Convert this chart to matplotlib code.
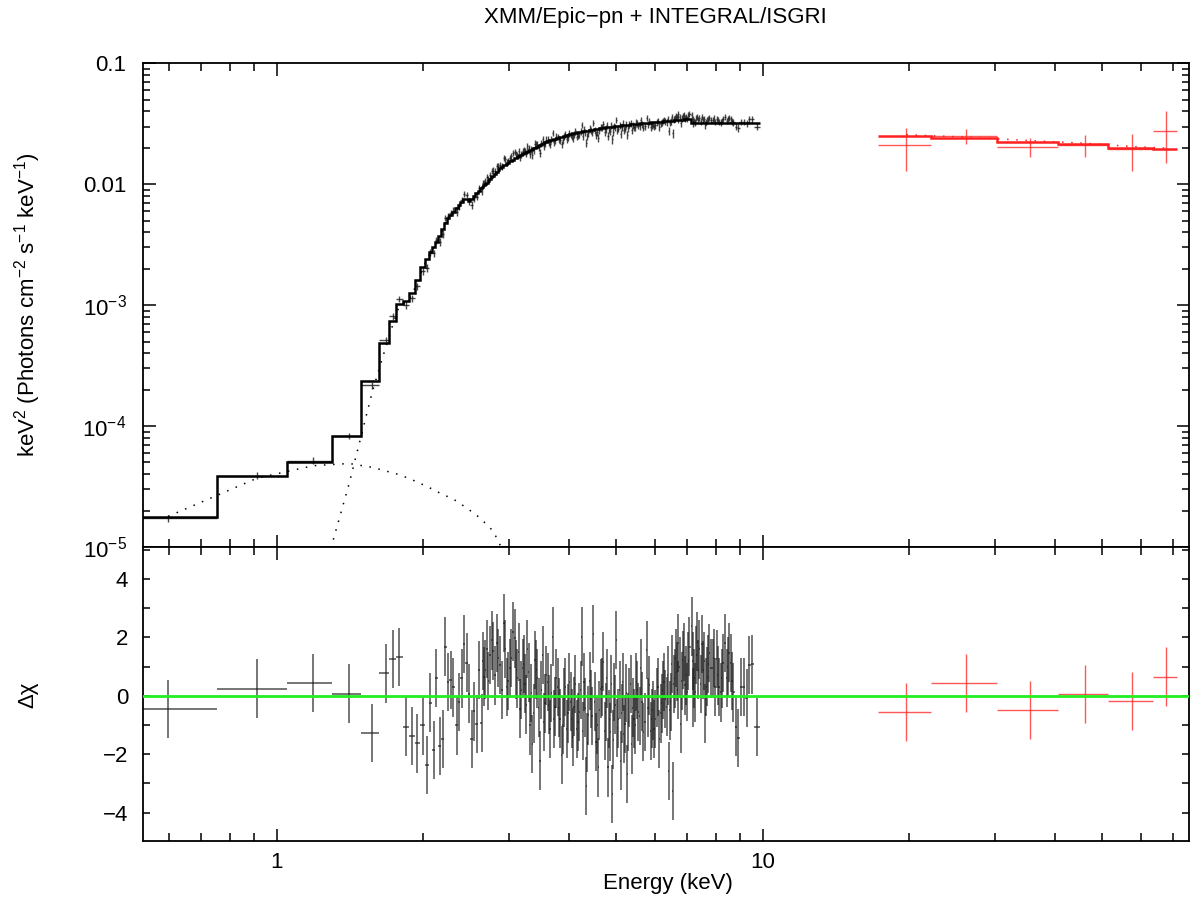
"""XMM/Epic-pn + INTEGRAL/ISGRI unfolded spectrum with delta-chi residuals."""

import matplotlib

matplotlib.use("Agg")
import matplotlib.pyplot as plt
import numpy as np
from matplotlib.ticker import FixedLocator, LogLocator, MultipleLocator, NullFormatter

plt.rcParams["font.family"] = ["Liberation Sans", "DejaVu Sans"]
plt.rcParams["mathtext.fontset"] = "custom"
plt.rcParams["mathtext.rm"] = "Liberation Sans"
plt.rcParams["mathtext.it"] = "Liberation Sans:italic"
plt.rcParams["mathtext.bf"] = "Liberation Sans:bold"

# --- Epic-pn channels: bin centre (keV), folded model (E^2 F), delta-chi
PN_ENERGY = [
    0.598, 0.912, 1.190, 1.410, 1.573, 1.676, 1.737, 1.788, 1.842, 1.898,
    1.947, 1.997, 2.036, 2.070, 2.110, 2.130, 2.170, 2.195, 2.220, 2.255,
    2.280, 2.309, 2.346, 2.372, 2.402, 2.429, 2.460, 2.490, 2.519, 2.550,
    2.579, 2.604, 2.641, 2.655, 2.670, 2.688, 2.705, 2.726, 2.747, 2.768,
    2.790, 2.813, 2.836, 2.858, 2.881, 2.908, 2.936, 2.955, 2.973, 2.996,
    3.020, 3.040, 3.059, 3.093, 3.110, 3.126, 3.147, 3.167, 3.187, 3.207,
    3.225, 3.243, 3.260, 3.278, 3.298, 3.320, 3.338, 3.357, 3.378, 3.400,
    3.418, 3.437, 3.460, 3.482, 3.505, 3.527, 3.546, 3.565, 3.588, 3.611,
    3.630, 3.650, 3.674, 3.698, 3.718, 3.738, 3.762, 3.786, 3.806, 3.827,
    3.859, 3.880, 3.901, 3.926, 3.951, 3.975, 4.000, 4.023, 4.046, 4.068,
    4.090, 4.116, 4.143, 4.168, 4.194, 4.218, 4.242, 4.265, 4.289, 4.310,
    4.330, 4.353, 4.377, 4.402, 4.427, 4.455, 4.482, 4.510, 4.539, 4.564,
    4.589, 4.615, 4.642, 4.670, 4.699, 4.726, 4.753, 4.780, 4.805, 4.828,
    4.851, 4.874, 4.897, 4.920, 4.944, 4.968, 4.991, 5.018, 5.045, 5.074,
    5.103, 5.128, 5.152, 5.180, 5.208, 5.237, 5.266, 5.291, 5.316, 5.346,
    5.377, 5.406, 5.436, 5.461, 5.487, 5.517, 5.547, 5.579, 5.611, 5.645,
    5.680, 5.726, 5.772, 5.808, 5.844, 5.878, 5.911, 5.943, 5.976, 6.014,
    6.053, 6.090, 6.128, 6.163, 6.198, 6.232, 6.266, 6.306, 6.346, 6.376,
    6.407, 6.437, 6.467, 6.498, 6.529, 6.560, 6.591, 6.622, 6.654, 6.680,
    6.705, 6.743, 6.781, 6.813, 6.846, 6.883, 6.921, 6.959, 6.997, 7.030,
    7.064, 7.145, 7.172, 7.199, 7.233, 7.267, 7.301, 7.336, 7.371, 7.406,
    7.448, 7.491, 7.548, 7.584, 7.620, 7.656, 7.693, 7.729, 7.765, 7.828,
    7.891, 7.930, 7.967, 8.043, 8.081, 8.119, 8.196, 8.235, 8.274, 8.365,
    8.433, 8.474, 8.514, 8.594, 8.650, 8.701, 8.812, 8.909, 9.024, 9.153,
    9.271, 9.385, 9.493, 9.720,
]
PN_MODEL = [
    1.78e-5, 3.83e-5, 5.02e-5, 8.26e-5, 2.37e-4, 4.90e-4, 7.46e-4, 1.03e-3, 1.08e-3, 1.25e-3,
    1.60e-3, 2.05e-3, 2.40e-3, 2.75e-3, 3.05e-3, 3.30e-3, 3.75e-3, 4.30e-3, 4.77e-3, 5.28e-3,
    5.60e-3, 5.94e-3, 6.33e-3, 6.70e-3, 7.14e-3, 7.50e-3, 7.60e-3, 7.20e-3, 7.50e-3, 7.96e-3,
    8.43e-3, 8.78e-3, 9.32e-3, 9.54e-3, 9.76e-3, 1.00e-2, 1.03e-2, 1.07e-2, 1.10e-2, 1.14e-2,
    1.18e-2, 1.22e-2, 1.26e-2, 1.30e-2, 1.35e-2, 1.39e-2, 1.43e-2, 1.45e-2, 1.48e-2, 1.51e-2,
    1.55e-2, 1.57e-2, 1.60e-2, 1.65e-2, 1.66e-2, 1.68e-2, 1.71e-2, 1.73e-2, 1.75e-2, 1.78e-2,
    1.80e-2, 1.82e-2, 1.84e-2, 1.86e-2, 1.88e-2, 1.91e-2, 1.93e-2, 1.96e-2, 1.98e-2, 2.01e-2,
    2.03e-2, 2.05e-2, 2.08e-2, 2.11e-2, 2.14e-2, 2.17e-2, 2.19e-2, 2.22e-2, 2.24e-2, 2.27e-2,
    2.28e-2, 2.30e-2, 2.32e-2, 2.34e-2, 2.35e-2, 2.37e-2, 2.39e-2, 2.41e-2, 2.42e-2, 2.44e-2,
    2.46e-2, 2.48e-2, 2.50e-2, 2.52e-2, 2.54e-2, 2.56e-2, 2.58e-2, 2.59e-2, 2.61e-2, 2.63e-2,
    2.64e-2, 2.66e-2, 2.67e-2, 2.68e-2, 2.69e-2, 2.70e-2, 2.72e-2, 2.73e-2, 2.74e-2, 2.75e-2,
    2.76e-2, 2.77e-2, 2.78e-2, 2.79e-2, 2.80e-2, 2.82e-2, 2.83e-2, 2.84e-2, 2.85e-2, 2.87e-2,
    2.88e-2, 2.89e-2, 2.90e-2, 2.91e-2, 2.93e-2, 2.94e-2, 2.95e-2, 2.96e-2, 2.97e-2, 2.98e-2,
    2.99e-2, 2.99e-2, 3.00e-2, 3.00e-2, 3.01e-2, 3.02e-2, 3.02e-2, 3.03e-2, 3.04e-2, 3.04e-2,
    3.05e-2, 3.06e-2, 3.07e-2, 3.07e-2, 3.08e-2, 3.09e-2, 3.10e-2, 3.10e-2, 3.11e-2, 3.12e-2,
    3.12e-2, 3.13e-2, 3.14e-2, 3.15e-2, 3.15e-2, 3.16e-2, 3.17e-2, 3.17e-2, 3.18e-2, 3.19e-2,
    3.20e-2, 3.21e-2, 3.21e-2, 3.22e-2, 3.23e-2, 3.23e-2, 3.24e-2, 3.25e-2, 3.25e-2, 3.26e-2,
    3.27e-2, 3.27e-2, 3.28e-2, 3.29e-2, 3.30e-2, 3.30e-2, 3.31e-2, 3.32e-2, 3.32e-2, 3.33e-2,
    3.33e-2, 3.34e-2, 3.35e-2, 3.35e-2, 3.36e-2, 3.36e-2, 3.37e-2, 3.37e-2, 3.38e-2, 3.38e-2,
    3.39e-2, 3.39e-2, 3.40e-2, 3.41e-2, 3.41e-2, 3.42e-2, 3.43e-2, 3.43e-2, 3.44e-2, 3.44e-2,
    3.45e-2, 3.22e-2, 3.22e-2, 3.22e-2, 3.22e-2, 3.22e-2, 3.22e-2, 3.22e-2, 3.22e-2, 3.22e-2,
    3.22e-2, 3.22e-2, 3.22e-2, 3.22e-2, 3.22e-2, 3.22e-2, 3.22e-2, 3.22e-2, 3.22e-2, 3.22e-2,
    3.22e-2, 3.22e-2, 3.22e-2, 3.22e-2, 3.22e-2, 3.22e-2, 3.22e-2, 3.22e-2, 3.22e-2, 3.22e-2,
    3.22e-2, 3.22e-2, 3.22e-2, 3.22e-2, 3.22e-2, 3.22e-2, 3.22e-2, 3.22e-2, 3.22e-2, 3.22e-2,
    3.22e-2, 3.22e-2, 3.22e-2, 3.22e-2,
]
PN_DELCHI = [
    -0.46, 0.25, 0.45, 0.08, -1.28, 0.77, 1.27, 1.33, -1.05, -1.38,
    -1.63, -1.01, -2.36, -0.23, -1.86, 0.62, -1.72, -1.47, 1.69, 0.48,
    0.54, 0.29, -1.01, -0.21, 0.60, 1.77, 1.14, 0.08, -1.47, -0.53,
    -0.96, 0.88, -0.93, 1.20, 0.66, 0.90, 1.61, 0.50, 1.40, 1.90,
    1.54, 0.70, 1.80, 1.30, 1.05, 0.20, 2.49, 1.60, 0.31, 0.50,
    0.94, 1.30, 2.20, 1.97, 0.90, 0.60, 1.50, -0.44, 0.20, 0.94,
    1.10, 0.42, -0.30, 1.61, 0.80, -1.01, 0.10, -1.65, -0.60, 1.23,
    0.90, 0.60, -0.40, -2.22, 0.20, 1.40, -0.90, -0.26, 0.70, 0.48,
    -0.30, -1.13, 0.10, 2.03, -0.80, -0.37, 0.60, 0.31, -0.40, -0.78,
    -2.02, -1.00, -0.05, 0.30, -1.13, -0.60, 0.48, -0.20, -0.78, -1.40,
    -0.37, 0.40, -1.13, -0.90, -0.55, 0.20, 2.03, -1.20, 0.48, -0.40,
    -3.08, -1.60, -0.67, 0.50, -0.11, -0.70, 2.12, -0.20, -1.59, -1.00,
    -2.45, -0.50, 0.25, 0.30, 1.17, -1.20, -0.55, 0.60, -2.45, -0.80,
    -1.24, 0.40, -3.37, -1.50, 0.14, -0.30, 1.91, -1.10, -0.78, 0.20,
    -2.22, -0.60, 0.48, -1.30, -0.96, 0.10, -2.68, -0.90, -0.05, 0.40,
    -1.66, -0.40, -0.78, -1.00, 0.48, 0.20, -0.55, -0.70, 0.94, -0.20,
    -1.24, -0.90, 1.56, -0.40, 0.36, -1.20, -0.78, -0.50, -1.13, -0.80,
    -0.05, 0.30, -1.47, -0.60, -0.26, 0.20, 0.48, -0.10, -0.37, 0.70,
    -2.57, -0.50, -0.21, 1.10, -3.26, 0.40, 0.60, 1.30, 0.83, 0.20,
    1.80, 1.00, -0.96, 0.50, 1.23, 1.50, 0.36, 0.70, 0.14, 1.20,
    1.69, 2.38, 1.20, -0.05, 0.60, 0.12, 1.40, 1.86, 0.90, 1.59,
    0.40, 1.77, 0.88, 1.20, -0.61, 0.30, 0.66, 1.10, 1.46, 0.94,
    0.94, 1.30, 0.31, 1.26, 0.70, 0.31, 0.12, 0.60, 1.12, 1.80,
    0.62, 1.00, 1.48, 1.12, 0.50, 0.12, -1.07, -1.44, 0.31, 0.31,
    -0.07, 1.05, 1.08, -1.07,
]
PN_FIRST_EDGE = 0.43
PN_LAST_EDGE = 9.85
PN_REL_ERR = 0.065

# model components of the pn fit (dotted)
BB_ENERGY = [0.598, 0.912, 1.190, 1.410, 1.573, 1.676, 1.788, 1.898, 2.036,
             2.195, 2.309, 2.460, 2.620, 2.790, 3.000]
BB_FLUX = [1.79e-5, 3.71e-5, 4.70e-5, 4.90e-5, 4.55e-5, 4.25e-5, 3.96e-5, 3.60e-5,
           3.17e-5, 2.72e-5, 2.49e-5, 2.10e-5, 1.74e-5, 1.35e-5, 7.5e-6]
PL_ENERGY = [1.190, 1.410, 1.573, 1.676, 1.737, 1.788, 1.842, 1.898, 1.947, 1.997,
             2.036, 2.110, 2.170, 2.220, 2.309, 2.429, 2.519, 2.641, 2.881, 3.093,
             3.482, 4.000, 4.482, 4.991, 5.487, 5.976, 6.467, 6.997, 7.145, 9.720]
PL_FLUX = [3.0e-6, 3.36e-5, 1.92e-4, 4.48e-4, 7.06e-4, 9.9e-4, 1.04e-3, 1.21e-3,
           1.56e-3, 2.01e-3, 2.37e-3, 3.02e-3, 3.72e-3, 4.74e-3, 5.92e-3, 7.48e-3,
           7.48e-3, 9.30e-3, 1.35e-2, 1.65e-2, 2.11e-2, 2.58e-2, 2.83e-2, 3.02e-2,
           3.15e-2, 3.25e-2, 3.35e-2, 3.44e-2, 3.22e-2, 3.22e-2]

# --- ISGRI channels
ISGRI_EDGES = [17.3, 22.2, 30.3, 40.6, 51.4, 63.6, 71.3]
ISGRI_FLUX = [2.09e-2, 2.52e-2, 2.05e-2, 2.11e-2, 1.95e-2, 2.77e-2]
ISGRI_ERR = [0.80e-2, 0.36e-2, 0.38e-2, 0.44e-2, 0.67e-2, 1.26e-2]
ISGRI_MODEL = [2.52e-2, 2.40e-2, 2.25e-2, 2.14e-2, 2.01e-2, 1.95e-2]
ISGRI_DELCHI = [-0.55, 0.45, -0.49, 0.07, -0.18, 0.66]

Y_TICKS = [1e-5, 1e-4, 1e-3, 1e-2, 1e-1]
Y_TICK_LABELS = ["10$^{\u22125}$", "10$^{\u22124}$", "10$^{\u22123}$", "0.01", "0.1"]

FS = 16
DOTS = (0, (1, 5))


def main() -> None:
    pn_e = np.array(PN_ENERGY)
    pn_m = np.array(PN_MODEL)
    pn_r = np.array(PN_DELCHI)
    mids = 0.5 * (pn_e[1:] + pn_e[:-1])
    pn_edges = np.concatenate([[PN_FIRST_EDGE], mids, [PN_LAST_EDGE]])
    pn_xerr = [pn_e - pn_edges[:-1], pn_edges[1:] - pn_e]
    pn_err = PN_REL_ERR * pn_m
    pn_flux = pn_m + pn_r * pn_err

    is_edges = np.array(ISGRI_EDGES)
    is_e = 0.5 * (is_edges[1:] + is_edges[:-1])
    is_xerr = [is_e - is_edges[:-1], is_edges[1:] - is_e]

    fig = plt.figure(figsize=(11.95, 8.99), dpi=100)
    ax_top = fig.add_axes([0.1199, 0.3916, 0.8753, 0.5380])
    ax_res = fig.add_axes([0.1199, 0.0649, 0.8753, 0.3267], sharex=ax_top)

    black = "0.1"
    red = "#ff2020"

    # upper panel
    ax_top.errorbar(pn_e, pn_flux, xerr=pn_xerr, yerr=pn_err, fmt="none",
                    ecolor=black, elinewidth=1.0, capsize=0, alpha=0.8, zorder=2)
    ax_top.stairs(pn_m, pn_edges, baseline=None, color="black", linewidth=1.8, zorder=3)
    ax_top.plot(BB_ENERGY, BB_FLUX, color="black", linewidth=1.1, linestyle=DOTS, zorder=2)
    ax_top.plot(PL_ENERGY, PL_FLUX, color="black", linewidth=1.1, linestyle=DOTS, zorder=2)

    ax_top.errorbar(is_e, ISGRI_FLUX, xerr=is_xerr, yerr=ISGRI_ERR, fmt="none",
                    ecolor=red, elinewidth=1.0, capsize=0, alpha=0.75, zorder=2)
    ax_top.stairs(ISGRI_MODEL, is_edges, baseline=None, color=red, linewidth=1.8, zorder=3)
    ax_top.plot(is_e, np.array(ISGRI_MODEL) * 1.02, color=red, linewidth=1.1,
                linestyle=DOTS, zorder=2)

    ax_top.set_xscale("log")
    ax_top.set_yscale("log")
    ax_top.set_xlim(0.5315, 75.45)
    ax_top.set_ylim(1e-5, 0.1)
    ax_top.yaxis.set_major_locator(FixedLocator(Y_TICKS))
    ax_top.set_yticklabels(Y_TICK_LABELS)
    ax_top.yaxis.set_minor_locator(LogLocator(base=10, subs=np.arange(2, 10)))
    ax_top.yaxis.set_minor_formatter(NullFormatter())

    # lower panel
    ax_res.errorbar(pn_e, pn_r, xerr=pn_xerr, yerr=1.0, fmt="none",
                    ecolor=black, elinewidth=1.2, capsize=0, alpha=0.7, zorder=2)
    ax_res.errorbar(is_e, ISGRI_DELCHI, xerr=is_xerr, yerr=1.0, fmt="none",
                    ecolor=red, elinewidth=1.0, capsize=0, alpha=0.75, zorder=2)
    ax_res.axhline(0.0, color="#22ee22", linewidth=2.0, zorder=4)
    ax_res.set_ylim(-4.96, 5.1)
    ax_res.yaxis.set_major_locator(MultipleLocator(2))
    ax_res.yaxis.set_minor_locator(MultipleLocator(1))

    ax_res.xaxis.set_major_locator(FixedLocator([1, 10]))
    ax_res.set_xticklabels(["1", "10"])
    ax_res.xaxis.set_minor_locator(LogLocator(base=10, subs=np.arange(2, 10)))
    ax_res.xaxis.set_minor_formatter(NullFormatter())

    for ax in (ax_top, ax_res):
        for sp in ax.spines.values():
            sp.set_linewidth(1.3)
        ax.tick_params(which="both", direction="in", top=True, right=True,
                       width=1.1, labelsize=FS)
        ax.tick_params(axis="x", which="major", length=9, pad=8)
        ax.tick_params(axis="x", which="minor", length=5.5)
    ax_top.tick_params(axis="y", which="major", length=9, pad=12)
    ax_top.tick_params(axis="y", which="minor", length=5)
    ax_top.tick_params(axis="x", labelbottom=False)
    ax_res.tick_params(axis="y", which="both", length=5, pad=11)

    fig.text(655 / 1195, 1 - 17 / 899, "XMM/Epic\u2212pn + INTEGRAL/ISGRI",
             ha="center", va="center", fontsize=FS)
    fig.text(28 / 1195, 1 - 305 / 899,
             "keV$^2$ (Photons cm$^{\u22122}$ s$^{\u22121}$ keV$^{\u22121}$)",
             ha="center", va="center", rotation=90, fontsize=FS)
    fig.text(28 / 1195, 1 - 695 / 899, "\u0394\u03c7", ha="center", va="center",
             rotation=90, fontsize=FS)
    fig.text(668 / 1195, 1 - 884 / 899, "Energy (keV)", ha="center", va="center",
             fontsize=FS)

    fig.savefig("out.png", dpi=100)


if __name__ == "__main__":
    main()
